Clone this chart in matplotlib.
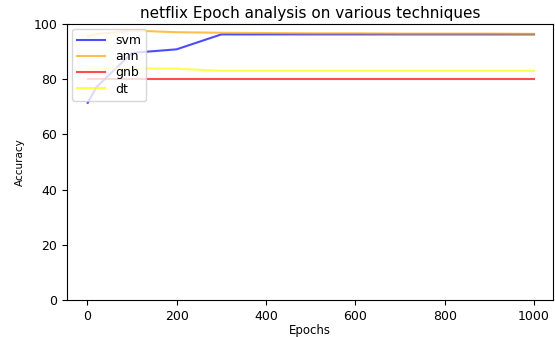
import matplotlib

matplotlib.use("Agg")
import matplotlib.pyplot as plt

epochs = [1, 20, 100, 200, 300, 400, 500, 600, 700, 800, 900, 1000]
svm = [71.4, 77.0, 89.5, 90.8, 96.2, 96.2, 96.2, 96.2, 96.2, 96.2, 96.2, 96.2]
ann = [95.5, 96.3, 97.6, 97.0, 96.8, 96.7, 96.6, 96.6, 96.5, 96.5, 96.5, 96.4]
gnb = [79.9, 79.9, 79.9, 79.9, 79.9, 79.9, 79.9, 79.9, 79.9, 79.9, 79.9, 79.9]
dt = [83.8, 83.8, 83.9, 83.8, 83.0, 83.0, 83.0, 83.0, 83.0, 83.0, 83.0, 83.0]

fig, ax = plt.subplots(figsize=(5.55, 3.37), dpi=100)
fig.subplots_adjust(left=0.121, right=0.996, top=0.929, bottom=0.11)

ax.plot(epochs, svm, color="blue", alpha=0.7, label="svm")
ax.plot(epochs, ann, color="orange", alpha=0.7, label="ann")
ax.plot(epochs, gnb, color="red", alpha=0.7, label="gnb")
ax.plot(epochs, dt, color="yellow", alpha=0.7, label="dt")

ax.set_ylim(0, 100)
ax.set_xlim(-45, 1042)
ax.set_xlabel("Epochs", fontsize=8.5, labelpad=1)
ax.set_ylabel("Accuracy", fontsize=7.5, labelpad=6)
ax.set_title("netflix Epoch analysis on various techniques", fontsize=11, pad=4)
ax.tick_params(labelsize=9)
ax.legend(loc="upper left", fontsize=9, labelspacing=0.26, handlelength=2.25,
          borderaxespad=0.4)

fig.savefig("out.png", dpi=100)
